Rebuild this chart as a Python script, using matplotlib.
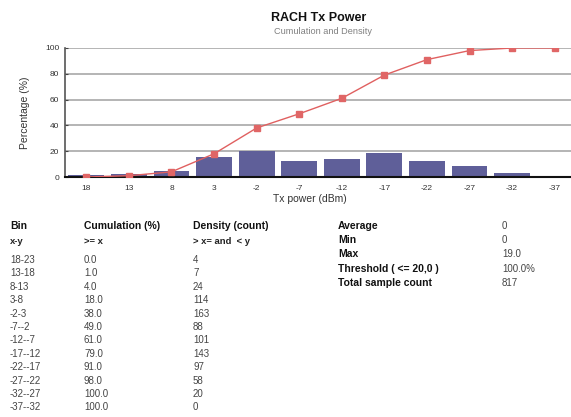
import matplotlib
matplotlib.use("Agg")
import matplotlib.pyplot as plt
import numpy as np

plt.rcParams['font.family'] = ['Liberation Sans', 'DejaVu Sans']

# Chart data
tick_labels = ["18", "13", "8", "3", "-2", "-7", "-12", "-17", "-22", "-27", "-32", "-37"]
density_pct = [1.9, 2.3, 4.4, 15.3, 20.2, 12.4, 13.7, 18.9, 12.4, 8.3, 3.1, 0.0]
cumulation_pct = [0.0, 1.0, 4.0, 18.0, 38.0, 49.0, 61.0, 79.0, 91.0, 98.0, 100.0, 100.0]

# Table data
bins = ["18-23", "13-18", "8-13", "3-8", "-2-3", "-7--2", "-12--7", "-17--12",
        "-22--17", "-27--22", "-32--27", "-37--32"]
density_count = [4, 7, 24, 114, 163, 88, 101, 143, 97, 58, 20, 0]
stat_labels = ["Average", "Min", "Max", "Threshold ( <= 20,0 )", "Total sample count"]
stat_values = ["0", "0", "19.0", "100.0%", "817"]

W, H = 571, 417
fig = plt.figure(figsize=(W / 100, H / 100), dpi=100)

def fx(px):
    return px / W

def fy(py):
    return 1 - py / H

# Chart axes (extends past the right edge)
ax_left, ax_right = 65, 576
ax_top, ax_bottom = 48, 177
ax_w = ax_right - ax_left
ax = fig.add_axes([fx(ax_left), fy(ax_bottom), fx(ax_w), (ax_bottom - ax_top) / H])

x = np.arange(len(tick_labels))
ax.set_axisbelow(True)
ax.yaxis.grid(True, color="#a0a0a0", linewidth=1.1)
ax.bar(x, density_pct, width=0.84, color="#5f5f99", zorder=2)
ax.plot(x, cumulation_pct, color="#e06060", linewidth=1.0, marker="s",
        markersize=4.5, markerfacecolor="#e06666", markeredgecolor="#e06666", zorder=3)

ax.set_xlim(-0.5, len(tick_labels) - 0.5)
ax.set_ylim(0, 100)
ax.set_yticks([0, 20, 40, 60, 80, 100])
ax.set_xticks(x)
ax.set_xticklabels(tick_labels)
ax.tick_params(axis="x", length=0, pad=6, labelsize=6, labelcolor="#333333")
ax.tick_params(axis="y", length=2, direction="in", pad=4, labelsize=6, labelcolor="#333333", color="#444444")
for s in ("top", "right"):
    ax.spines[s].set_visible(False)
ax.spines["left"].set_color("#555555")
ax.spines["left"].set_linewidth(1.2)
ax.spines["bottom"].set_color("#111111")
ax.spines["bottom"].set_linewidth(1.5)
ax.set_ylabel("Percentage (%)", fontsize=7.5, color="#333333")
ax.yaxis.set_label_coords((30 - ax_left) / ax_w, 0.5)
ax.set_xlabel("Tx power (dBm)", fontsize=7.5, color="#333333")
ax.xaxis.set_label_coords((310 - ax_left) / ax_w, -(194 - ax_bottom) / (ax_bottom - ax_top))

# Titles
fig.text(fx(319), fy(18), "RACH Tx Power", ha="center", va="center",
         fontsize=9, fontweight="bold", color="#111111")
fig.text(fx(323), fy(32), "Cumulation and Density", ha="center", va="center",
         fontsize=6.6, color="#808080")

# Bin table
col_x = [10, 84, 193]
hdr1 = ["Bin", "Cumulation (%)", "Density (count)"]
hdr2 = ["x-y", ">= x", "> x= and  < y"]
for cx, h1, h2 in zip(col_x, hdr1, hdr2):
    fig.text(fx(cx), fy(228.5), h1, ha="left", va="baseline", fontsize=7.5,
             fontweight="bold", color="#111111")
    fig.text(fx(cx), fy(244), h2, ha="left", va="baseline", fontsize=6.8,
             fontweight="bold", color="#222222")

row0, dy = 263, 13.4
for i, (b, c, d) in enumerate(zip(bins, cumulation_pct, density_count)):
    yy = fy(row0 + i * dy)
    fig.text(fx(col_x[0]), yy, b, ha="left", va="baseline", fontsize=7, color="#444444")
    fig.text(fx(col_x[1]), yy, f"{c:.1f}", ha="left", va="baseline", fontsize=7, color="#444444")
    fig.text(fx(col_x[2]), yy, str(d), ha="left", va="baseline", fontsize=7, color="#444444")

# Summary statistics
stat_y = [228.5, 243, 257, 272, 286]
for sy, lab, val in zip(stat_y, stat_labels, stat_values):
    fig.text(fx(338), fy(sy), lab, ha="left", va="baseline", fontsize=7.5,
             fontweight="bold", color="#111111")
    fig.text(fx(502), fy(sy), val, ha="left", va="baseline", fontsize=7, color="#444444")

fig.savefig("out.png", dpi=100)
